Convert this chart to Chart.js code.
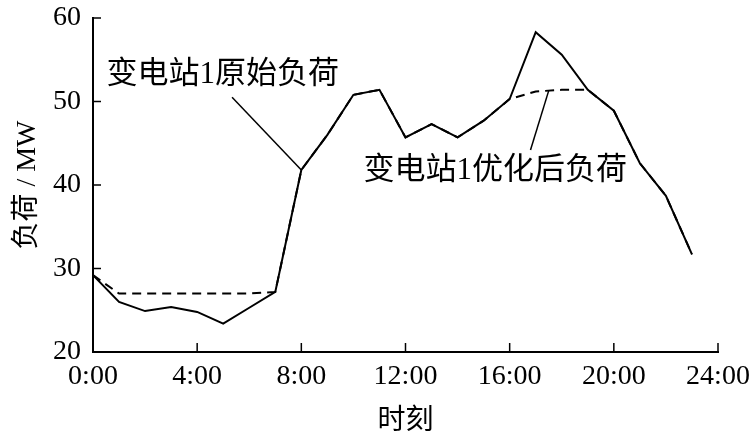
<!DOCTYPE html>
<html>
<head>
<meta charset="utf-8">
<script src="https://cdn.jsdelivr.net/npm/chart.js@4/dist/chart.umd.min.js"></script>
<style>
  body { margin: 0; background: #fff; }
  #wrap { width: 750px; height: 438px; }
</style>
</head>
<body>
<div id="wrap"><canvas id="myChart"></canvas></div>
<script>
const hours = [0, 1, 2, 3, 4, 5, 6, 7, 8, 9, 10, 11, 12, 13, 14, 15, 16, 17, 18, 19, 20, 21, 22, 23];
const originalLoad = [29.2, 26.0, 24.9, 25.4, 24.8, 23.4, 25.3, 27.2, 41.8, 46.0, 50.8, 51.4,
                      45.7, 47.3, 45.7, 47.7, 50.3, 58.3, 55.6, 51.4, 48.9, 42.6, 38.7, 31.7];
const optimizedLoad = [29.2, 27.0, 27.0, 27.0, 27.0, 27.0, 27.0, 27.2, 41.8, 46.0, 50.8, 51.4,
                       45.7, 47.3, 45.7, 47.7, 50.3, 51.2, 51.4, 51.4, 48.9, 42.6, 38.7, 31.7];
const xTicks = [0, 4, 8, 12, 16, 20, 24];
const yTicks = [20, 30, 40, 50, 60];
const seriesNames = ['变电站1原始负荷', '变电站1优化后负荷'];

const serif = '"Liberation Serif", "Noto Sans CJK SC", serif';

// labels with leader lines, placed in data units
const callouts = [
    { text: seriesNames[0], tx: 4.98, ty: 53.2, from: [5.34, 50.5], to: [8, 41.8] },
    { text: seriesNames[1], tx: 15.45, ty: 41.7, from: [17.5, 51.3], to: [16.8, 44.2] }
];

const extras = {
    id: 'extras',
    afterDraw(c) {
        const ctx = c.ctx;
        const xs = c.scales.x, ys = c.scales.y;
        ctx.save();
        ctx.strokeStyle = '#000';
        ctx.lineWidth = 1.5;
        // inward tick marks
        xTicks.forEach(v => {
            const px = xs.getPixelForValue(v);
            ctx.beginPath();
            ctx.moveTo(px, ys.bottom);
            ctx.lineTo(px, ys.bottom - 9);
            ctx.stroke();
        });
        yTicks.forEach(v => {
            const py = ys.getPixelForValue(v);
            ctx.beginPath();
            ctx.moveTo(xs.left, py);
            ctx.lineTo(xs.left + 8, py);
            ctx.stroke();
        });
        // callouts
        ctx.font = '31px ' + serif;
        ctx.fillStyle = '#000';
        ctx.textAlign = 'center';
        ctx.textBaseline = 'middle';
        callouts.forEach(o => {
            ctx.fillText(o.text, xs.getPixelForValue(o.tx), ys.getPixelForValue(o.ty));
            ctx.beginPath();
            ctx.moveTo(xs.getPixelForValue(o.from[0]), ys.getPixelForValue(o.from[1]));
            ctx.lineTo(xs.getPixelForValue(o.to[0]), ys.getPixelForValue(o.to[1]));
            ctx.stroke();
        });
        ctx.restore();
    }
};

const ctx = document.getElementById('myChart').getContext('2d');
new Chart(ctx, {
    type: 'line',
    data: {
        datasets: [
            {
                label: seriesNames[0],
                data: hours.map((h, i) => ({ x: h, y: originalLoad[i] })),
                borderColor: '#000',
                borderWidth: 2,
                pointRadius: 0,
                tension: 0
            },
            {
                label: seriesNames[1],
                data: hours.map((h, i) => ({ x: h, y: optimizedLoad[i] })),
                borderColor: '#000',
                borderWidth: 2,
                borderDash: [9, 6],
                pointRadius: 0,
                tension: 0
            }
        ]
    },
    options: {
        responsive: true,
        maintainAspectRatio: false,
        animation: false,
        layout: { padding: { top: 18, right: 32, left: 0, bottom: 0 } },
        plugins: {
            legend: { display: false },
            tooltip: { enabled: false }
        },
        scales: {
            x: {
                type: 'linear',
                min: 0,
                max: 24,
                afterFit: s => { s.height = 86; s.paddingLeft = 0; s.paddingRight = 0; },
                afterBuildTicks: s => { s.ticks = xTicks.map(v => ({ value: v })); },
                border: { display: true, color: '#000', width: 2 },
                grid: { display: false, drawTicks: false },
                ticks: {
                    color: '#000',
                    padding: 8,
                    maxRotation: 0,
                    font: { family: serif, size: 28 },
                    callback: v => v + ':00'
                },
                title: {
                    display: true,
                    text: '时刻',
                    color: '#000',
                    padding: { top: 0, bottom: 0 },
                    font: { family: serif, size: 28 }
                }
            },
            y: {
                min: 20,
                max: 60,
                afterFit: s => { s.width = 93; s.paddingTop = 0; s.paddingBottom = 0; },
                afterBuildTicks: s => { s.ticks = yTicks.map(v => ({ value: v })); },
                border: { display: true, color: '#000', width: 2 },
                grid: { display: false, drawTicks: false },
                ticks: {
                    color: '#000',
                    padding: 12,
                    font: { family: serif, size: 28 }
                },
                title: {
                    display: true,
                    text: '负荷 / MW',
                    color: '#000',
                    padding: { top: 11, bottom: 0 },
                    font: { family: serif, size: 28 }
                }
            }
        }
    },
    plugins: [extras]
});
</script>
</body>
</html>
